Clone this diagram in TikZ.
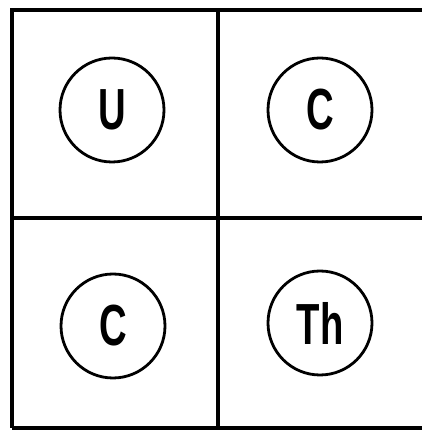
\documentclass[tikz,border=0pt]{standalone}
\usepackage{fontspec}
\setsansfont{Liberation Sans}
\usepackage{tikz}

\tikzset{
  element/.style={circle, draw, line width=2.8pt, minimum size=104pt, inner sep=0pt,
    font=\sffamily\fontsize{58}{58}\selectfont}
}
\newcommand{\narrow}[1]{\scalebox{0.66}[1]{#1}}

\begin{document}
\begin{tikzpicture}[x=1pt, y=1pt]
  \useasboundingbox (0,0) rectangle (422,431);
  \clip (0,0) rectangle (422,431);

  % cell grid
  \draw[line width=4.5pt] (12,3) -- (12,421) -- (430,421);
  \draw[line width=3.5pt] (12,3) -- (430,3);
  \draw[line width=3.5pt] (12,213) -- (430,213);
  \draw[line width=3.5pt] (218,3) -- (218,421);

  % elements
  \node[element] (u)  at (112,321) {\narrow{\bfseries U}};
  \node[element] (c1) at (320,321) {\narrow{\bfseries C}};
  \node[element] (c2) at (113,105) {\narrow{\bfseries C}};
  \node[element] (th) at (320,108) {\narrow{\bfseries Th}};
\end{tikzpicture}
\end{document}
